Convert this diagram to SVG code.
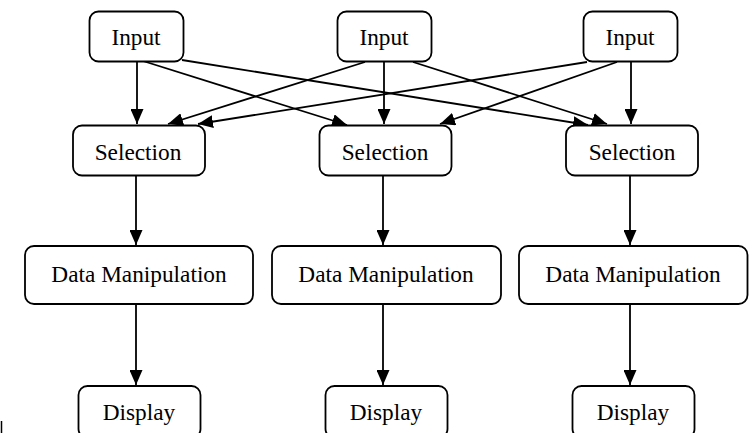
<svg xmlns="http://www.w3.org/2000/svg" width="749" height="433" viewBox="0 0 749 433">
<style>
.box{fill:#fff;stroke:#000;stroke-width:1.8}
.lbl{font-family:"Liberation Serif","Times New Roman",serif;font-size:23.3px;fill:#000;text-anchor:middle}
.edge{stroke:#000;stroke-width:1.8;fill:none;marker-end:url(#ah)}
</style>
<defs>
<marker id="ah" markerUnits="userSpaceOnUse" markerWidth="15" markerHeight="13" refX="15" refY="6.5" orient="auto">
<path d="M0,0 L15,6.5 L0,13 z" fill="#000"/>
</marker>
</defs>
<rect width="749" height="433" fill="#fff"/>
<g id="connectors">
<line class="edge" x1="137" y1="62" x2="137" y2="124"/>
<line class="edge" x1="143" y1="61" x2="347" y2="125"/>
<line class="edge" x1="182" y1="60" x2="588" y2="125"/>
<line class="edge" x1="384" y1="62" x2="384" y2="124"/>
<line class="edge" x1="365" y1="62" x2="168" y2="124"/>
<line class="edge" x1="413" y1="62" x2="607" y2="124"/>
<line class="edge" x1="631" y1="62" x2="631" y2="124"/>
<line class="edge" x1="587" y1="62" x2="198" y2="124"/>
<line class="edge" x1="617" y1="62" x2="440" y2="124"/>
<line class="edge" x1="136" y1="176" x2="136" y2="245"/>
<line class="edge" x1="383" y1="176" x2="383" y2="245"/>
<line class="edge" x1="630" y1="176" x2="630" y2="245"/>
<line class="edge" x1="136" y1="305" x2="136" y2="385"/>
<line class="edge" x1="383" y1="305" x2="383" y2="385"/>
<line class="edge" x1="630" y1="305" x2="630" y2="385"/>
</g>
<g id="input1"><rect class="box" x="89.5" y="11.5" width="94" height="50" rx="9"/><text class="lbl" x="136" y="45">Input</text></g>
<g id="input2"><rect class="box" x="337.5" y="11.5" width="94" height="50" rx="9"/><text class="lbl" x="384" y="45">Input</text></g>
<g id="input3"><rect class="box" x="583.5" y="11.5" width="94" height="50" rx="9"/><text class="lbl" x="630" y="45">Input</text></g>
<g id="selection1"><rect class="box" x="73" y="125.5" width="132" height="50" rx="9"/><text class="lbl" x="138" y="160">Selection</text></g>
<g id="selection2"><rect class="box" x="319.5" y="125.5" width="132" height="50" rx="9"/><text class="lbl" x="385" y="160">Selection</text></g>
<g id="selection3"><rect class="box" x="566" y="125.5" width="132" height="50" rx="9"/><text class="lbl" x="632" y="160">Selection</text></g>
<g id="dm1"><rect class="box" x="25" y="246" width="228" height="58" rx="9"/><text class="lbl" x="139" y="282">Data Manipulation</text></g>
<g id="dm2"><rect class="box" x="272" y="246" width="229" height="58" rx="9"/><text class="lbl" x="386" y="282">Data Manipulation</text></g>
<g id="dm3"><rect class="box" x="519" y="246" width="228.5" height="58" rx="9"/><text class="lbl" x="633" y="282">Data Manipulation</text></g>
<g id="display1"><rect class="box" x="78.5" y="386" width="122" height="52" rx="9"/><text class="lbl" x="139" y="420">Display</text></g>
<g id="display2"><rect class="box" x="325.5" y="386" width="122" height="52" rx="9"/><text class="lbl" x="386" y="420">Display</text></g>
<g id="display3"><rect class="box" x="572.5" y="386" width="122" height="52" rx="9"/><text class="lbl" x="633" y="420">Display</text></g>
<path d="M1.5,421 V433" stroke="#000" stroke-width="1.5"/>
</svg>
